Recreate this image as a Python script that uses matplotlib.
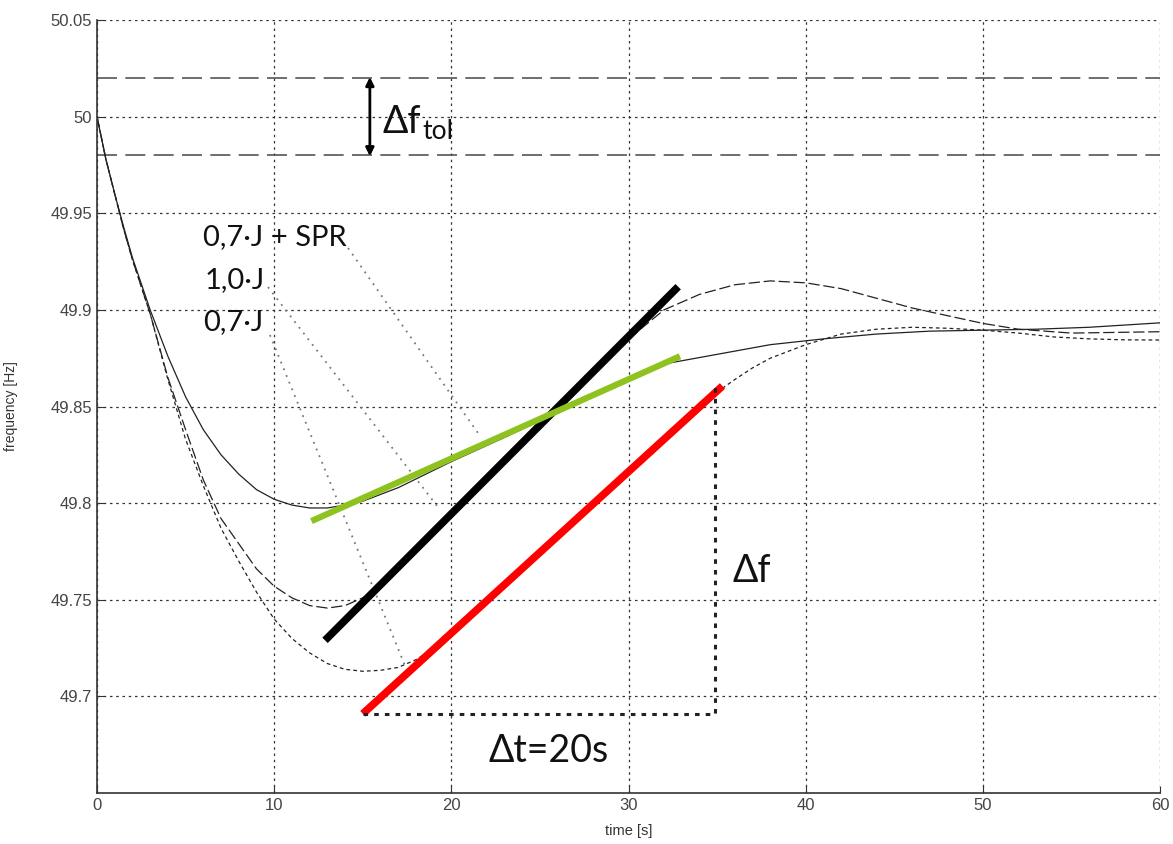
import numpy as np
import matplotlib
matplotlib.use("Agg")
import matplotlib.pyplot as plt

# frequency response
t_spr = [0, 0.5, 1, 1.5, 2, 3, 4, 5, 6, 7, 8, 9, 10, 11, 12, 13, 14, 15, 17, 20, 23, 26, 29, 32, 35,
         38, 41, 44, 47, 50, 53, 56, 60]
f_spr = [50.0, 49.978, 49.96, 49.943, 49.927, 49.9, 49.876, 49.855, 49.838, 49.825, 49.815, 49.807,
         49.802, 49.799, 49.7975, 49.7975, 49.799, 49.801, 49.808, 49.8215, 49.834, 49.847, 49.86,
         49.872, 49.877, 49.882, 49.885, 49.8875, 49.889, 49.8895, 49.89, 49.891, 49.8933]

t_10j = [0, 0.5, 1, 1.5, 2, 3, 4, 5, 6, 7, 8, 9, 10, 11, 12, 13, 14, 15, 16, 18, 20, 22, 24, 26, 28,
         30, 32, 34, 36, 38, 40, 42, 44, 46, 48, 50, 52, 55, 60]
f_10j = [50.0, 49.978, 49.96, 49.942, 49.926, 49.898, 49.865, 49.838, 49.812, 49.792, 49.779, 49.766,
         49.757, 49.751, 49.747, 49.7457, 49.747, 49.751, 49.757, 49.775, 49.7935, 49.812, 49.83,
         49.849, 49.867, 49.885, 49.9, 49.908, 49.913, 49.915, 49.914, 49.911, 49.906, 49.901,
         49.897, 49.893, 49.89, 49.888, 49.8887]

t_07j = [0, 0.5, 1, 1.5, 2, 3, 4, 5, 6, 7, 8, 9, 10, 11, 12, 13, 14, 15, 16, 17, 18, 19, 20, 22, 24,
         26, 28, 30, 32, 34, 35, 36, 37, 38, 40, 42, 44, 46, 48, 50, 52, 54, 56, 58, 60]
f_07j = [50.0, 49.978, 49.96, 49.942, 49.926, 49.898, 49.864, 49.833, 49.809, 49.787, 49.77, 49.754,
         49.74, 49.73, 49.7225, 49.717, 49.714, 49.713, 49.7135, 49.715, 49.719, 49.7245, 49.731,
         49.748, 49.765, 49.782, 49.799, 49.816, 49.833, 49.85, 49.8575, 49.864, 49.87, 49.875,
         49.882, 49.8875, 49.89, 49.891, 49.8905, 49.8895, 49.888, 49.886, 49.885, 49.8845, 49.8844]

# tolerance band
f_tol = [50.02, 49.98]

# tangent lines (start / end)
tan_green_t = [12.1, 32.9]
tan_green_f = [49.7907, 49.876]
tan_black_t = [12.87, 32.8]
tan_black_f = [49.729, 49.912]
tan_red_t = [15.0, 35.3]
tan_red_f = [49.691, 49.8606]

# dotted Δt / Δf bracket
bracket_t = [15.0, 34.9, 34.9]
bracket_f = [49.691, 49.691, 49.86]

xticks = [0, 10, 20, 30, 40, 50, 60]
yticks = [49.7, 49.75, 49.8, 49.85, 49.9, 49.95, 50.0, 50.05]
ytick_labels = ["49.7", "49.75", "49.8", "49.85", "49.9", "49.95", "50", "50.05"]

curve_labels = ["0,7·J + SPR", "1,0·J", "0,7·J"]

label_font = ["Lato", "DejaVu Sans"]

fig = plt.figure(figsize=(11.73, 8.44), dpi=100)
ax = fig.add_axes([0.0827, 0.0604, 0.9063, 0.9159])

ax.set_xlim(0, 60)
ax.set_ylim(49.65, 50.05)
ax.set_xticks(xticks)
ax.set_yticks(yticks)
ax.set_yticklabels(ytick_labels)
ax.tick_params(direction="in", length=5, color="#333333", labelsize=12, labelcolor="#444444")
for lab in ax.get_xticklabels() + ax.get_yticklabels():
    lab.set_family("Liberation Sans")
ax.grid(True, color="#333333", linestyle=(0, (2, 3)), linewidth=0.9)
ax.set_axisbelow(True)
for s in ["top", "right"]:
    ax.spines[s].set_visible(False)
for s in ["left", "bottom"]:
    ax.spines[s].set_color("#333333")
    ax.spines[s].set_linewidth(1.2)

ax.set_xlabel("time [s]", fontsize=10.5, family="Liberation Sans", color="#333333", labelpad=8)
ax.set_ylabel("frequency [Hz]", fontsize=10, family="Liberation Sans", color="#333333", labelpad=23)

# tolerance lines
for f in f_tol:
    ax.axhline(f, color="#555555", linestyle=(0, (12, 5)), linewidth=1.2)

# curves
ax.plot(t_spr, f_spr, color="#222222", linewidth=0.9)
ax.plot(t_10j, f_10j, color="#222222", linewidth=0.9, linestyle=(0, (9, 3)))
ax.plot(t_07j, f_07j, color="#222222", linewidth=0.9, linestyle=(0, (3, 2.5)))

# leader lines from the labels
ax.plot([14.17, 21.6], [49.932, 49.835], color="#777777", linestyle=(0, (1, 3)), linewidth=1.3)
ax.plot([9.65, 19.24], [49.9118, 49.798], color="#777777", linestyle=(0, (1, 3)), linewidth=1.3)
ax.plot([9.76, 17.38], [49.887, 49.716], color="#777777", linestyle=(0, (1, 3)), linewidth=1.3)

# tangents
ax.plot(tan_black_t, tan_black_f, color="black", linewidth=5.5, solid_capstyle="butt")
ax.plot(tan_green_t, tan_green_f, color="#8DC21F", linewidth=4.5, solid_capstyle="butt")
ax.plot(tan_red_t, tan_red_f, color="#FF0000", linewidth=5.5, solid_capstyle="butt")
ax.plot(bracket_t, bracket_f, color="#222222", linestyle=(0, (1.5, 2)), linewidth=2.2)

# texts
ax.text(5.98, 49.9335, curve_labels[0], fontsize=21, family=label_font, color="#111111")
ax.text(6.1, 49.9113, curve_labels[1], fontsize=21, family=label_font, color="#111111")
ax.text(5.98, 49.8895, curve_labels[2], fontsize=21, family=label_font, color="#111111")

ax.text(35.84, 49.759, "Δf", fontsize=27, family=label_font, color="#111111")
ax.text(22.07, 49.666, "Δt=20s", fontsize=27, family=label_font, color="#111111")
ax.text(16.1, 49.9915, "Δf", fontsize=27, family=label_font, color="#111111")
ax.text(18.35, 49.9885, "tol", fontsize=19, family=label_font, color="#111111")

ax.annotate("", xy=(15.4, 50.0205), xytext=(15.4, 49.9795),
            arrowprops=dict(arrowstyle="<|-|>", color="black", lw=2, mutation_scale=12,
                            shrinkA=0, shrinkB=0))

fig.savefig("out.png", dpi=100)
